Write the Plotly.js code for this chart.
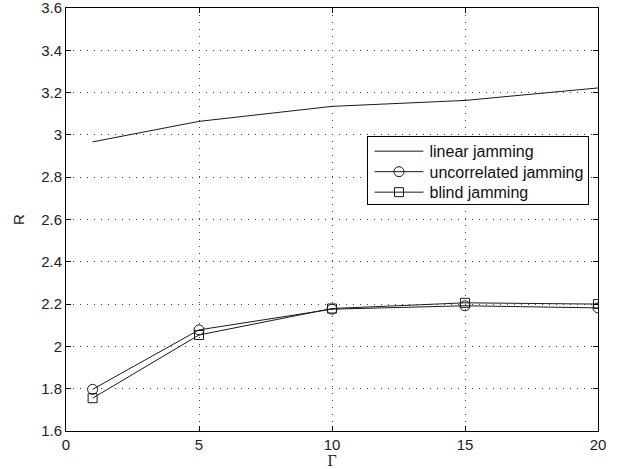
<!DOCTYPE html>
<html>
<head>
<meta charset="utf-8">
<script src="https://cdn.plot.ly/plotly-3.0.1.min.js"></script>
<style>html,body{margin:0;padding:0;background:#fff}#chart{width:629px;height:469px}</style>
</head>
<body>
<div id="chart"></div>
<script>
const gammaValues = [1, 5, 10, 15, 20];
const linearJamming = [2.967, 3.064, 3.135, 3.163, 3.222];
const uncorrelatedJamming = [1.797, 2.078, 2.176, 2.192, 2.182];
const blindJamming = [1.755, 2.054, 2.179, 2.206, 2.200];
const seriesNames = ['linear jamming', 'uncorrelated jamming', 'blind jamming'];
const xTicks = [0, 5, 10, 15, 20];
const yTicks = [1.6, 1.8, 2, 2.2, 2.4, 2.6, 2.8, 3, 3.2, 3.4, 3.6];

const lineStyle = {color: '#1a1a1a', width: 1};
const traces = [
  {x: gammaValues, y: linearJamming, name: seriesNames[0], mode: 'lines', line: lineStyle},
  {x: gammaValues, y: uncorrelatedJamming, name: seriesNames[1], mode: 'lines+markers', line: lineStyle,
   marker: {symbol: 'circle-open', size: 10, color: '#1a1a1a', line: {width: 1, color: '#1a1a1a'}}},
  {x: gammaValues, y: blindJamming, name: seriesNames[2], mode: 'lines+markers', line: lineStyle,
   marker: {symbol: 'square-open', size: 9, color: '#1a1a1a', line: {width: 1, color: '#1a1a1a'}}}
];

const axisCommon = {
  showline: true, linecolor: '#000', linewidth: 1, mirror: 'ticks',
  ticks: 'inside', ticklen: 5, tickcolor: '#000', tickwidth: 1,
  showgrid: true, gridcolor: '#444', griddash: '1px,6px', gridwidth: 1,
  zeroline: false, ticklabeloverflow: 'allow',
  tickfont: {family: 'Liberation Sans, Arial, sans-serif', size: 15, color: '#222'}
};

const layout = {
  width: 629, height: 469,
  margin: {l: 66, r: 31, t: 8, b: 38},
  paper_bgcolor: '#fff', plot_bgcolor: '#fff',
  showlegend: true,
  legend: {
    x: 0.984, xanchor: 'right', y: 0.697, yanchor: 'top',
    bgcolor: '#fff', bordercolor: '#000', borderwidth: 1,
    font: {family: 'Liberation Sans, Arial, sans-serif', size: 16, color: '#111'},
    tracegroupgap: 0, itemwidth: 51
  },
  xaxis: Object.assign({}, axisCommon, {
    range: [-0.0001, 20.0001], tickmode: 'array', tickvals: xTicks, ticktext: xTicks.map(String),
    title: {text: 'Γ', font: {family: 'Liberation Serif, Times New Roman, serif', size: 16, color: '#222'}, standoff: 4}
  }),
  yaxis: Object.assign({}, axisCommon, {
    range: [1.5999, 3.6001], tickmode: 'array', tickvals: yTicks, ticktext: yTicks.map(v => String(v)),
    title: {text: 'R', font: {family: 'Liberation Sans, Arial, sans-serif', size: 15, color: '#222'}, standoff: 12}
  })
};

const gd = document.getElementById('chart');
Plotly.newPlot(gd, traces, layout, {displayModeBar: false, staticPlot: true}).then(() => {
  // MATLAB-style legend: longer sample lines and tighter rows
  const leg = gd.querySelector('g.legend');
  if (!leg) return;
  const rowH = 20.5, firstY = 15;
  leg.querySelectorAll('g.traces').forEach((g, i) => {
    const t = g.getAttribute('transform') || '';
    const m = /translate\(\s*([-\d.e]+)/.exec(t);
    const x = m ? parseFloat(m[1]) : 0;
    g.setAttribute('transform', 'translate(' + x + ',' + (firstY + i * rowH) + ')');
    g.querySelectorAll('.legendlines path').forEach(p => p.setAttribute('d', 'M6,0h49'));
    g.querySelectorAll('.legendsymbols path').forEach(p => p.setAttribute('transform', 'translate(30.5,0)'));
  });
  const bg = leg.querySelector('rect.bg');
  if (bg) bg.setAttribute('height', 68);
});
</script>
</body>
</html>
